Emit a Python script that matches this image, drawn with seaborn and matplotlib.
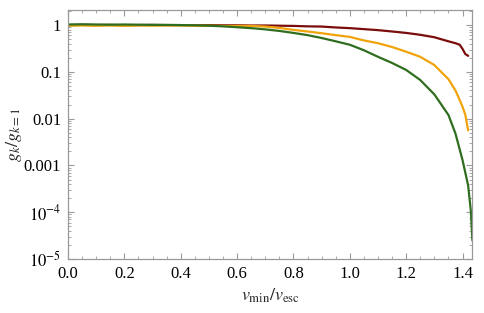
import numpy as np
import pandas as pd
import seaborn as sns
import matplotlib.pyplot as plt
from matplotlib.ticker import FixedLocator, LogLocator, MultipleLocator, NullFormatter

# v_min / v_esc grid
v_grid = [0.00, 0.05, 0.10, 0.15, 0.20, 0.25, 0.30, 0.35, 0.40, 0.45, 0.50, 0.55,
          0.60, 0.65, 0.70, 0.75, 0.80, 0.85, 0.90, 0.95, 1.00, 1.05, 1.10, 1.15,
          1.20, 1.25, 1.30, 1.35, 1.375, 1.39, 1.40, 1.41, 1.42, 1.43, 1.435]

g_red = [1.00, 1.01, 1.00, 1.01, 0.99, 1.00, 1.01, 1.00, 1.00, 0.99, 1.00, 0.99,
         0.99, 0.98, 0.98, 0.97, 0.96, 0.94, 0.93, 0.89, 0.86, 0.82, 0.78, 0.73,
         0.68, 0.62, 0.55, 0.45, 0.41, 0.38, 0.31, 0.24, 0.22, np.nan, np.nan]

g_orange = [0.97, 0.98, 0.97, 0.98, 0.97, 0.98, 0.97, 0.98, 0.98, 0.97, 0.97, 0.96,
            0.96, 0.96, 0.93, 0.87, 0.79, 0.73, 0.67, 0.61, 0.56, 0.47, 0.41, 0.34,
            0.27, 0.21, 0.14, 0.070, 0.040, 0.025, 0.018, 0.012, 0.0056, np.nan, np.nan]

g_green = [1.03, 1.04, 1.03, 1.02, 1.03, 1.02, 1.01, 1.01, 1.00, 0.99, 0.97, 0.94,
           0.90, 0.86, 0.81, 0.75, 0.68, 0.61, 0.53, 0.45, 0.38, 0.29, 0.21, 0.155,
           0.11, 0.067, 0.033, 0.012, 0.0048, 0.0022, 0.0013, 0.0007, 0.00037, 0.0001, 0.000025]

series = ["k2", "k3", "k4"]
colors = ["#7a0c0c", "#f0a30a", "#2f6e1f"]

df = pd.DataFrame({
    "v": v_grid * 3,
    "g": g_red + g_orange + g_green,
    "s": [series[0]] * len(v_grid) + [series[1]] * len(v_grid) + [series[2]] * len(v_grid),
}).dropna()

sns.set_style("ticks")
plt.rcParams["font.family"] = ["Liberation Serif", "DejaVu Serif"]
plt.rcParams["mathtext.fontset"] = "stix"

fig = plt.figure(figsize=(4.84, 3.13), dpi=100)
ax = fig.add_axes([0.1405, 0.1725, 0.8355, 0.7955])

sns.lineplot(data=df, x="v", y="g", hue="s", palette=colors, linewidth=1.6,
             legend=False, ax=ax, estimator=None, sort=False)

ax.set_yscale("log")
ax.set_xlim(0, 1.435)
ax.set_ylim(1e-5, 2.1)

xt = np.arange(0, 1.41, 0.2)
ax.set_xticks(xt)
ax.set_xticklabels([f"{t:.1f}" for t in xt])
ax.xaxis.set_minor_locator(MultipleLocator(0.05))
yt = [1e-5, 1e-4, 1e-3, 1e-2, 1e-1, 1]
ax.yaxis.set_major_locator(FixedLocator(yt))
ax.yaxis.set_minor_locator(LogLocator(base=10, subs=np.arange(2, 10)))
ax.yaxis.set_minor_formatter(NullFormatter())
ax.set_yticklabels([r"$10^{-5}$", r"$10^{-4}$", "0.001", "0.01", "0.1", "1"])

for sp in ax.spines.values():
    sp.set_visible(True)
    sp.set_color("#9a9a9a")
    sp.set_linewidth(0.9)

ax.tick_params(which="both", direction="in", top=True, right=True, color="#9a9a9a",
               labelsize=12, labelcolor="black")
ax.tick_params(axis="x", pad=5)
ax.tick_params(axis="y", pad=5)
ax.tick_params(which="major", length=4, width=0.8)
ax.tick_params(which="minor", length=2, width=0.6)

ax.set_xlabel(r"$v_{\rm min}/v_{\rm esc}$", fontsize=13, labelpad=3)
ax.set_ylabel(r"$g_k/g_{k=1}$", fontsize=13, labelpad=0)

fig.savefig("out.png", dpi=100)
